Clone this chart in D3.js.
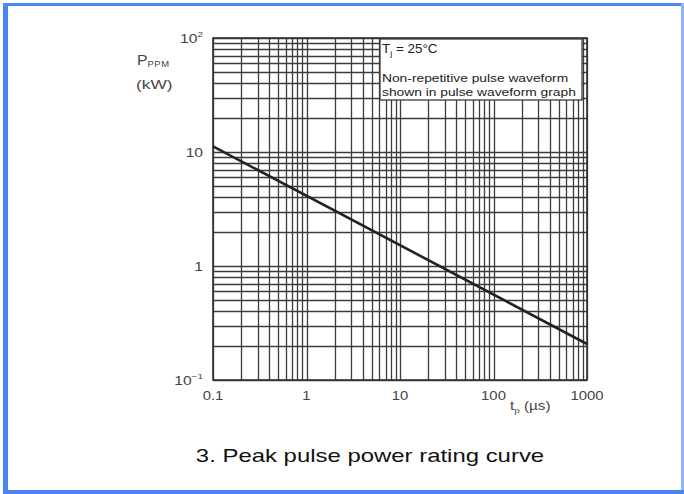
<!DOCTYPE html>
<html><head><meta charset="utf-8">
<script src="https://cdn.jsdelivr.net/npm/d3@7"></script>
<style>body{margin:0;background:#fff}svg{display:block}text{font-family:"Liberation Sans",Arial,sans-serif}</style>
</head><body><svg id="c" width="684" height="494"></svg>
<script>
const pulseWidthUs = [0.1, 1000];
const peakPowerKW = [11.2, 0.207];
const xTickLabels = ["0.1", "1", "10", "100", "1000"];
const xTickValues = [0.1, 1, 10, 100, 1000];
const yTickValues = [0.1, 1, 10, 100];

const svg = d3.select("#c");
const W = 684, H = 494;
svg.append("rect").attr("x",0).attr("y",0).attr("width",W).attr("height",H).attr("fill","#fff");
svg.append("rect").attr("x",3).attr("y",3).attr("width",5).attr("height",H-3).attr("fill","#4a86f5");
svg.append("rect").attr("x",3).attr("y",3).attr("width",W-3).attr("height",3).attr("fill","#4a86f5");
svg.append("rect").attr("x",W-3).attr("y",3).attr("width",3).attr("height",H-3).attr("fill","#8fb3fa");
svg.append("rect").attr("x",3).attr("y",H-4).attr("width",W-3).attr("height",4).attr("fill","#4a86f5");

const x = d3.scaleLog().domain([0.1,1000]).range([213,587]);
const y = d3.scaleLog().domain([0.1,100]).range([380,38]);

function txt(parent, px, py, size, sx, anchor, color){
  return parent.append("g").attr("transform",`translate(${px},${py}) scale(${sx},1)`)
    .append("text").attr("x",0).attr("y",0).attr("font-size",size).attr("fill",color||"#444")
    .attr("text-anchor",anchor||"start");
}

const g = svg.append("g");
const xs = [], ys = [];
for (let d=-1; d<3; d++) for (let m=1; m<10; m++) xs.push(m*Math.pow(10,d));
xs.push(1000);
for (let d=-1; d<2; d++) for (let m=1; m<10; m++) ys.push(m*Math.pow(10,d));
ys.push(100);
g.selectAll("line.vx").data(xs).join("line").attr("x1",d=>Math.round(x(d))+0.5).attr("x2",d=>Math.round(x(d))+0.5)
  .attr("y1",38).attr("y2",380).attr("stroke","#3c3c3c").attr("stroke-width",1.3);
g.selectAll("line.hy").data(ys).join("line").attr("y1",d=>Math.round(y(d))+0.5).attr("y2",d=>Math.round(y(d))+0.5)
  .attr("x1",213).attr("x2",587).attr("stroke","#3c3c3c").attr("stroke-width",1.3);
g.append("rect").attr("x",213).attr("y",38).attr("width",374).attr("height",342).attr("fill","none").attr("stroke","#333").attr("stroke-width",1.6);

// legend box
g.append("rect").attr("x",380).attr("y",39).attr("width",202).attr("height",61).attr("fill","#fff").attr("stroke","#3c3c3c").attr("stroke-width",1.3);
const lt = txt(g,382,53,12,1.12,"start","#222");
lt.append("tspan").text("T");
lt.append("tspan").attr("font-size",8).attr("dy",3).text("j");
lt.append("tspan").attr("dy",-3).text(" = 25°C");
txt(g,382,82,11.5,1.2,"start","#222").text("Non-repetitive pulse waveform");
txt(g,382,96,11.5,1.2,"start","#222").text("shown in pulse waveform graph");

// curve
g.append("path").datum(pulseWidthUs.map((t,i)=>[t,peakPowerKW[i]]))
  .attr("d", d3.line().x(d=>x(d[0])).y(d=>y(d[1])))
  .attr("stroke","#222").attr("stroke-width",2.6).attr("fill","none");

xTickValues.forEach((v,i)=>{ txt(g,x(v),400,12,1.24,"middle","#444").text(xTickLabels[i]); });
yTickValues.forEach(v=>{
  const t = txt(g,203,y(v)+5,12.5,1.25,"end","#444");
  if (v===100){ t.append("tspan").text("10"); t.append("tspan").attr("font-size",8).attr("dy",-6).text("2"); }
  else if (v===0.1){ t.append("tspan").text("10"); t.append("tspan").attr("font-size",8).attr("dy",-6).text("−1"); }
  else t.text(d3.format("~g")(v));
});
const pt = txt(g,137,65,15,1.05,"start","#444");
pt.append("tspan").text("P");
pt.append("tspan").attr("font-size",9).attr("dy",2).attr("letter-spacing",0.5).text("PPM");
txt(g,136,89,13.5,1.28,"start","#444").text("(kW)");
const tt = txt(g,510,410,12.5,1.22,"start","#444");
tt.append("tspan").text("t");
tt.append("tspan").attr("font-size",8).attr("dy",3).text("p");
tt.append("tspan").attr("dy",-3).text(" (µs)");

txt(svg,370,462,18,1.33,"middle","#111").text("3. Peak pulse power rating curve");
</script></body></html>
